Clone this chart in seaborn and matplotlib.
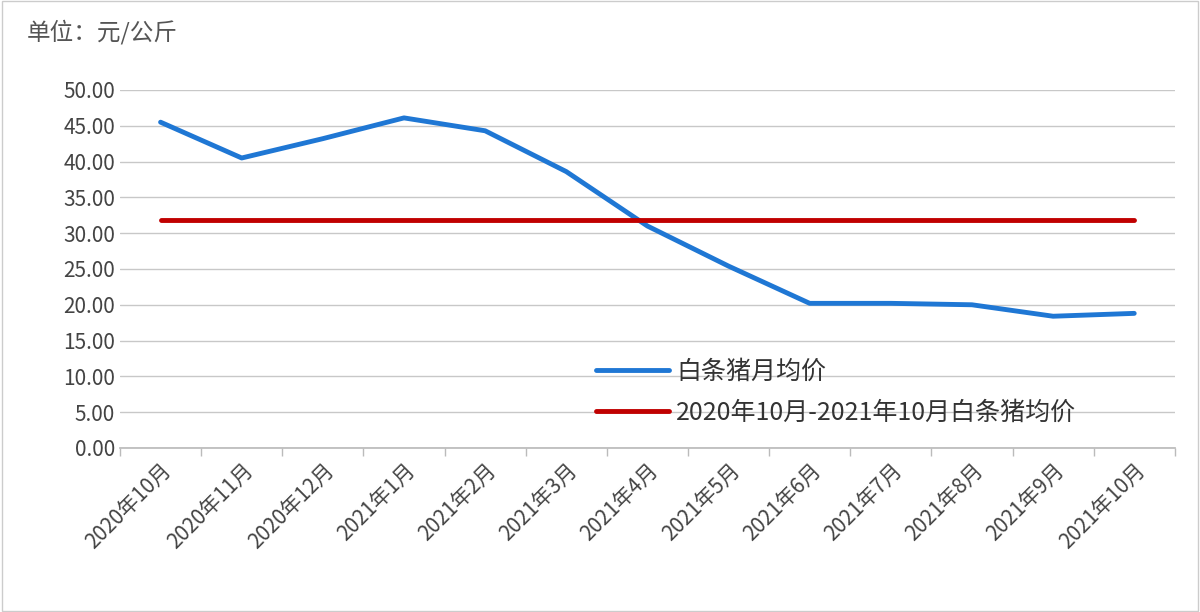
import pandas as pd
import seaborn as sns
import matplotlib.pyplot as plt

months = ["2020年10月", "2020年11月", "2020年12月", "2021年1月", "2021年2月", "2021年3月",
          "2021年4月", "2021年5月", "2021年6月", "2021年7月", "2021年8月", "2021年9月", "2021年10月"]
monthly_price = [45.5, 40.5, 43.2, 46.1, 44.3, 38.6, 31.0, 25.4, 20.2, 20.2, 20.0, 18.4, 18.8]
avg_price = 31.8

sns.set_theme(style="white")
plt.rcParams['font.family'] = ['Noto Sans CJK SC', 'DejaVu Sans']

df = pd.DataFrame({"pos": range(len(months)), "price": monthly_price, "avg": [avg_price] * len(months)})

fig = plt.figure(figsize=(12, 6.12), dpi=100)
ax = fig.add_axes([0.1, 0.268, 0.879, 0.585])
sns.lineplot(data=df, x="pos", y="price", ax=ax, color="#1f77d4", linewidth=3.5, label="白条猪月均价")
sns.lineplot(data=df, x="pos", y="avg", ax=ax, color="#c00000", linewidth=3.5,
             label="2020年10月-2021年10月白条猪均价")

ax.set_xlim(-0.5, len(months) - 0.5)
ax.set_ylim(0, 50)
ax.set_yticks([i * 5 for i in range(11)])
ax.set_yticklabels([f"{i * 5:.2f}" for i in range(11)], fontsize=15, color="#444444")
ax.set_xticks(range(len(months)))
ax.set_xticklabels(months, rotation=45, ha="right", rotation_mode="anchor", fontsize=15, color="#444444")
ax.set_xticks([i - 0.5 for i in range(len(months) + 1)], minor=True)
ax.tick_params(axis="x", which="minor", length=6, color="#bbbbbb", bottom=True)
ax.tick_params(axis="x", which="major", length=0, pad=8)
ax.tick_params(axis="y", length=0)
ax.grid(axis="y", color="#c8c8c8", linewidth=1)
ax.set_xlabel("")
ax.set_ylabel("")
for s in ["top", "right", "left"]:
    ax.spines[s].set_visible(False)
ax.spines["bottom"].set_color("#bbbbbb")

ax.legend(loc="lower left", bbox_to_anchor=(0.43, 0.0), frameon=False, fontsize=18,
          handlelength=2.9, handletextpad=0.3, labelspacing=0.6, labelcolor="#333333")
fig.text(0.022, 0.935, "单位：元/公斤", fontsize=17, color="#555555")
fig.patches.append(plt.Rectangle((0.002, 0.002), 0.996, 0.996, transform=fig.transFigure,
                                 fill=False, edgecolor="#cccccc", linewidth=1))
fig.savefig("out.png", dpi=100)
